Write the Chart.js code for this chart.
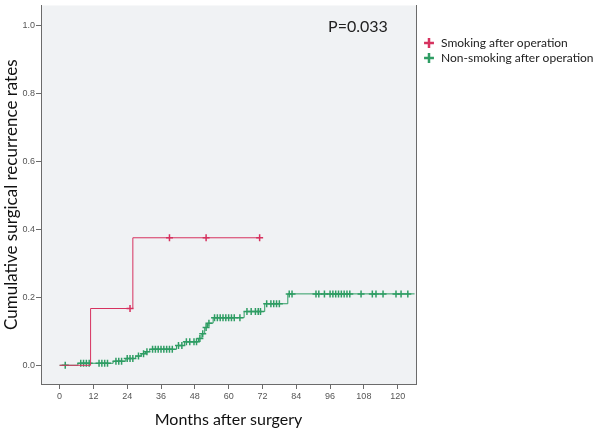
<!DOCTYPE html>
<html>
<head>
<meta charset="utf-8">
<script src="https://cdn.jsdelivr.net/npm/chart.js@4.4.1/dist/chart.umd.min.js"></script>
<style>
  body { margin: 0; background: #fff; }
</style>
</head>
<body>
<canvas id="km" width="600" height="429"></canvas>
<script>
// group names (legend)
const groupNames = ['Smoking after operation', 'Non-smoking after operation'];
const groupColors = ['#d6325f', '#2f9d64'];
const pValueText = 'P=0.033';

// step curve: time of each event (months) and cumulative recurrence rate after it
const smokeTimes = [0, 11, 26, 71];
const smokeRates = [0, 0.167, 0.375, 0.375];
const smokeCensored = [25, 39, 52, 71];

const nonSmokeTimes = [0, 6.5, 19, 23.5, 27, 29, 30.5, 32, 41.5, 44.3, 49.3, 50.5, 51.5, 52.5, 54.5, 65.5, 72.8, 81, 126];
const nonSmokeRates = [0, 0.006, 0.012, 0.02, 0.027, 0.034, 0.04, 0.047, 0.058, 0.069, 0.079, 0.093, 0.111, 0.124, 0.14, 0.158, 0.181, 0.21, 0.21];
const nonSmokeCensored = [2, 7.5, 8.5, 9.5, 10.5, 14, 15, 16, 17, 20, 21, 22, 24, 25, 26, 28, 29.8, 31,
  33, 34, 35, 36, 37, 38, 39, 40, 42.2, 43.4, 45, 46.2, 47.7, 48.6, 49.8, 50.8, 52, 53,
  55, 56, 57, 58, 59, 60, 61, 62, 64, 66.5, 68, 69.5, 70.5, 71.3, 73.5, 75, 76, 77, 78,
  81.5, 82.5, 91, 92, 94, 96, 97, 98, 99, 100, 101, 102, 103, 107, 111, 112.3, 114.8, 119.4, 121.2, 123.6];

const xTickStep = 12;
const yTickStep = 0.2;

// value of the step curve at time t (for placing censor marks on it)
function rateAt(times, rates, t) {
  let r = rates[0];
  for (let i = 0; i < times.length; i++) {
    if (times[i] <= t) r = rates[i];
  }
  return r;
}

const curve = (times, rates) => times.map((t, i) => ({ x: t, y: rates[i] }));
const marks = (times, rates, cens) => cens.map(t => ({ x: t, y: rateAt(times, rates, t) }));

const plotBackground = {
  id: 'plotBackground',
  beforeDraw(chart) {
    const { ctx, chartArea: a } = chart;
    ctx.save();
    ctx.fillStyle = '#f0f2f4';
    ctx.fillRect(a.left, a.top, a.right - a.left, a.bottom - a.top);
    ctx.restore();
  }
};

const pValueLabel = {
  id: 'pValueLabel',
  afterDraw(chart) {
    const { ctx, scales } = chart;
    ctx.save();
    ctx.font = '16px Lato';
    ctx.fillStyle = '#222';
    ctx.textAlign = 'right';
    ctx.textBaseline = 'alphabetic';
    ctx.fillText(pValueText, scales.x.getPixelForValue(116.5), scales.y.getPixelForValue(0.98));
    ctx.restore();
  }
};

const axisColor = '#6b6b6b';
const tickFont = { family: 'Liberation Sans', size: 9 };

const config = {
  type: 'line',
  data: {
    datasets: [
      {
        label: groupNames[0],
        data: curve(smokeTimes, smokeRates),
        borderColor: groupColors[0],
        backgroundColor: groupColors[0],
        borderWidth: 1,
        stepped: true,
        pointRadius: 0,
        pointStyle: 'cross',
        fill: false,
      },
      {
        label: groupNames[1],
        data: curve(nonSmokeTimes, nonSmokeRates),
        borderColor: groupColors[1],
        backgroundColor: groupColors[1],
        borderWidth: 1,
        stepped: true,
        pointRadius: 0,
        pointStyle: 'cross',
        fill: false,
      },
      {
        label: groupNames[0] + ' censored',
        data: marks(smokeTimes, smokeRates, smokeCensored),
        showLine: false,
        borderColor: groupColors[0],
        pointStyle: 'cross',
        pointRadius: 3.5,
        pointBorderWidth: 1.5,
      },
      {
        label: groupNames[1] + ' censored',
        data: marks(nonSmokeTimes, nonSmokeRates, nonSmokeCensored),
        showLine: false,
        borderColor: groupColors[1],
        pointStyle: 'cross',
        pointRadius: 3.5,
        pointBorderWidth: 1.5,
      },
    ],
  },
  options: {
    responsive: false,
    animation: false,
    layout: { padding: 0 },
    plugins: {
      tooltip: { enabled: false },
      legend: {
        display: true,
        position: 'right',
        align: 'start',
        maxWidth: 180,
        title: { display: true, text: ' ', font: { size: 10 }, padding: { top: 22, bottom: 0 } },
        labels: {
          usePointStyle: true,
          boxWidth: 12,
          boxHeight: 7,
          padding: 3,
          color: '#222',
          font: { family: 'Lato', size: 12 },
          filter: item => item.datasetIndex < 2,
          generateLabels(chart) {
            const items = Chart.defaults.plugins.legend.labels.generateLabels(chart);
            return items.map(it => Object.assign(it, { pointStyle: 'cross', lineWidth: 2.5 }));
          },
        },
      },
    },
    scales: {
      x: {
        type: 'linear',
        min: -6.6,
        max: 126.5,
        ticks: {
          stepSize: xTickStep,
          includeBounds: false,
          color: '#555',
          font: tickFont,
          padding: 2,
          maxRotation: 0,
        },
        grid: { drawOnChartArea: false, drawTicks: true, tickLength: 5, tickColor: axisColor },
        border: { display: true, color: axisColor },
        title: {
          display: true,
          text: 'Months after surgery',
          color: '#111',
          font: { family: 'Lato', size: 16 },
          padding: { top: 0, bottom: 0 },
        },
        afterFit(scale) {
          scale.height = 45;
          scale.paddingLeft = 0;
          scale.paddingRight = 0;
        },
      },
      y: {
        type: 'linear',
        min: -0.055,
        max: 1.058,
        ticks: {
          stepSize: yTickStep,
          includeBounds: false,
          color: '#555',
          font: tickFont,
          padding: 1,
          callback: v => v.toFixed(1),
        },
        grid: { drawOnChartArea: false, drawTicks: true, tickLength: 5, tickColor: axisColor },
        border: { display: true, color: axisColor },
        title: {
          display: true,
          text: 'Cumulative surgical recurrence rates',
          color: '#111',
          font: { family: 'Lato', size: 17 },
          padding: { top: 1, bottom: 0 },
        },
        afterFit(scale) {
          scale.width = 41;
          scale.paddingTop = 0;
          scale.paddingBottom = 0;
        },
      },
      // right frame line of the plot box
      yRight: {
        type: 'linear',
        position: 'right',
        min: 0,
        max: 1,
        ticks: { display: false },
        grid: { drawOnChartArea: false, drawTicks: false },
        border: { display: true, color: axisColor },
        afterFit(scale) {
          scale.width = 4;
          scale.paddingTop = 0;
          scale.paddingBottom = 0;
        },
      },
    },
  },
  plugins: [plotBackground, pValueLabel],
};

new Chart(document.getElementById('km'), config);
</script>
</body>
</html>
